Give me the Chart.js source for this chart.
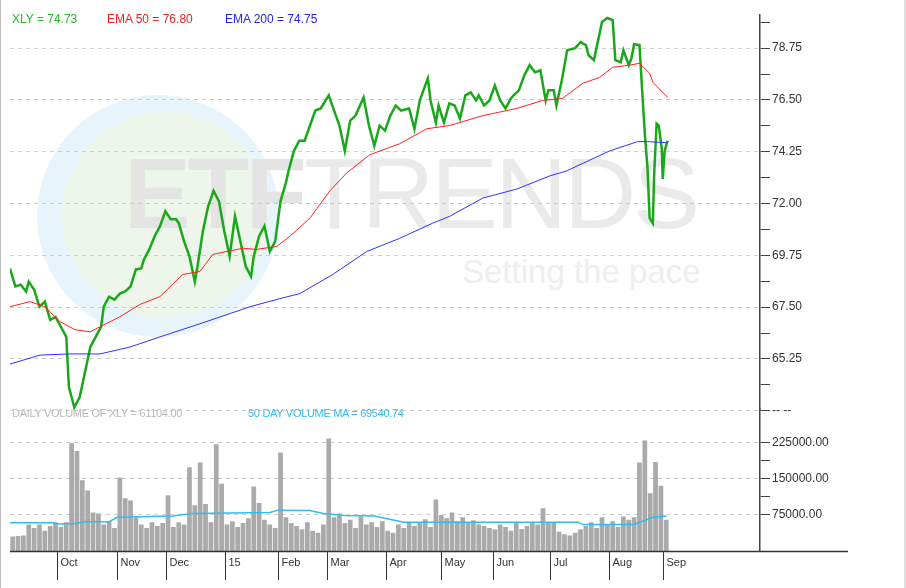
<!DOCTYPE html>
<html>
<head>
<meta charset="utf-8">
<script src="https://cdn.jsdelivr.net/npm/chart.js@4"></script>
<style>
  body { margin: 0; width: 906px; height: 588px; background: #fff; position: relative; overflow: hidden; font-family: "Liberation Sans", Arial, sans-serif; }
  .abs { position: absolute; white-space: nowrap; }
  #wm1 { left: 37px; top: 95px; width: 242px; height: 242px; border-radius: 50%; background: #e8f4fb; }
  #wm2 { left: 62px; top: 112px; width: 206px; height: 206px; border-radius: 50%; background: #eef6ec; }
  #wmText { left: 124px; top: 136px; font-size: 100px; color: #e4e4e4; letter-spacing: -3px; }
  #wmText b { font-weight: 900; }
  #wmText span { font-weight: 300; color: #eaeaea; }
  #wmSub { left: 462px; top: 253px; font-size: 33px; color: #eeeeee; }
  .leg { font-size: 12px; top: 12px; }
  .vleg { font-size: 11px; top: 407px; letter-spacing: -0.3px; }
  canvas { position: absolute; left: 0; }
  #frame { left: 0; top: 0; width: 1px; height: 588px; background: #bbb; }
  #frameR { left: 904px; top: 0; width: 2px; height: 588px; background: #ddd; }
</style>
</head>
<body>
<div class="abs" id="wm1"></div>
<div class="abs" id="wm2"></div>
<div class="abs" id="wmText"><b>ETF</b><span>TRENDS</span></div>
<div class="abs" id="wmSub">Setting the pace</div>
<div class="abs" id="frame"></div>
<div class="abs" id="frameR"></div>

<canvas id="chartPrice" width="906" height="420" style="top:0"></canvas>
<canvas id="chartVol" width="906" height="188" style="top:400px"></canvas>

<div class="abs leg" style="left:12px;color:#22bb22">XLY = 74.73</div>
<div class="abs leg" style="left:107px;color:#ee2222">EMA 50 = 76.80</div>
<div class="abs leg" style="left:225px;color:#2222ee">EMA 200 = 74.75</div>
<div class="abs vleg" style="left:12px;color:#bbbbbb">DAILY VOLUME OF XLY = 61104.00</div>
<div class="abs vleg" style="left:248px;color:#33bbee">50 DAY VOLUME MA = 69540.74</div>

<script>
// x unit = trading day since start of window (early Sep 2014)
const priceDays = [0, 2, 4, 6, 7, 9, 11, 13, 15, 17, 19, 21, 22, 24, 26, 28, 30, 32, 34, 35, 37, 39, 41, 43, 45, 47, 49, 50, 52, 54, 56, 58, 60, 62, 63, 65, 67, 69, 70, 72, 74, 76, 78, 80, 82, 84, 86, 88, 90, 91, 93, 95, 97, 99, 101, 103, 104, 106, 108, 110, 112, 114, 116, 119, 121, 123, 125, 127, 129, 132, 134, 136, 138, 140, 142, 144, 146, 149, 151, 153, 156, 157, 159, 160, 162, 164, 166, 168, 170, 172, 174, 175, 177, 179, 181, 183, 185, 187, 188, 190, 192, 194, 196, 198, 200, 201, 203, 204, 206, 208, 211, 213, 215, 216, 218, 220, 221, 223, 225, 226, 228, 229, 231, 232, 233, 235, 236, 237, 238, 238.8, 240, 240.5, 241.4, 242.2, 243.3, 243.7, 244.4, 245.5];
const priceValues = [69.18, 68.40, 68.48, 68.18, 68.61, 68.26, 67.52, 67.74, 66.95, 67.08, 66.65, 66.21, 64.03, 63.15, 63.59, 64.68, 65.77, 66.21, 66.65, 67.52, 67.96, 67.83, 68.09, 68.18, 68.40, 69.14, 69.18, 69.57, 70.01, 70.58, 71.02, 71.67, 71.32, 71.32, 71.15, 70.36, 69.71, 68.61, 69.27, 70.80, 71.89, 72.55, 72.11, 70.80, 69.71, 71.45, 70.36, 69.27, 68.83, 69.71, 70.58, 71.02, 69.92, 70.36, 72.11, 72.90, 73.42, 74.29, 74.73, 74.73, 75.39, 76.04, 76.13, 76.70, 76.04, 75.39, 74.29, 75.60, 75.82, 76.61, 75.39, 74.51, 75.39, 75.17, 75.82, 76.26, 76.04, 76.13, 75.25, 76.48, 77.44, 76.48, 75.52, 76.26, 75.52, 76.35, 76.26, 75.69, 76.70, 76.83, 76.48, 76.70, 76.26, 76.48, 77.13, 76.48, 76.13, 76.57, 76.70, 76.92, 77.57, 78.01, 77.70, 77.79, 76.48, 76.92, 76.92, 76.26, 77.35, 78.66, 78.75, 79.01, 78.88, 78.44, 78.23, 79.32, 79.89, 80.06, 79.97, 78.23, 78.14, 78.66, 78.01, 78.31, 78.92, 78.88, 76.92, 75.04, 73.55, 71.37, 71.15, 73.29, 75.47, 75.39, 74.42, 73.07, 74.29, 74.73];

const ema50Days = [0, 7.5, 13, 18.7, 24.3, 29.9, 33.6, 41, 48.5, 56, 64.5, 70.9, 75.7, 81, 87, 92, 99.6, 104.5, 112, 119.4, 125.7, 134.3, 145.5, 155.6, 164.2, 176.5, 189.2, 198.9, 206.3, 213.8, 220.1, 225, 231.3, 235, 238.8, 240, 245.5];
const ema50Values = [67.52, 67.74, 67.52, 66.87, 66.52, 66.43, 66.65, 67.08, 67.62, 67.96, 68.92, 69.05, 69.79, 69.92, 70.06, 70.01, 70.14, 70.58, 71.37, 72.55, 73.33, 74.12, 74.60, 75.25, 75.39, 75.82, 76.13, 76.48, 76.57, 77.22, 77.48, 77.92, 78.01, 78.09, 77.66, 77.27, 76.61];

const ema200Days = [0, 11.2, 22.4, 33.6, 44.8, 56, 70.9, 89.6, 100.7, 108.2, 120.5, 133.2, 145.5, 157.8, 164.2, 176.5, 189.2, 201.5, 207.8, 223.9, 234.3, 238, 245.5];
const ema200Values = [65.03, 65.42, 65.47, 65.47, 65.77, 66.21, 66.78, 67.52, 67.87, 68.09, 68.92, 69.92, 70.49, 71.15, 71.45, 72.24, 72.63, 73.20, 73.42, 74.29, 74.69, 74.69, 74.64];

// daily volume, one bar per two trading days
const volume = [30000, 31000, 32000, 55000, 48000, 55000, 42000, 52000, 60000, 50000, 60000, 224000, 208000, 147000, 126000, 80000, 78000, 55000, 62000, 48000, 153000, 110000, 105000, 70000, 55000, 48000, 60000, 52000, 58000, 116000, 50000, 60000, 55000, 174000, 95000, 184000, 98000, 60000, 222000, 140000, 55000, 62000, 50000, 58000, 68000, 134000, 100000, 65000, 55000, 48000, 205000, 70000, 58000, 52000, 45000, 60000, 42000, 38000, 55000, 234000, 70000, 78000, 58000, 65000, 48000, 72000, 55000, 60000, 50000, 62000, 42000, 38000, 55000, 48000, 60000, 52000, 58000, 66000, 50000, 107000, 75000, 68000, 80000, 62000, 70000, 58000, 64000, 55000, 52000, 48000, 45000, 55000, 50000, 42000, 58000, 46000, 52000, 60000, 55000, 89000, 60000, 58000, 40000, 35000, 32000, 38000, 45000, 52000, 60000, 48000, 70000, 55000, 62000, 50000, 72000, 65000, 70000, 184000, 230000, 120000, 185000, 136000, 65000];

const volMaDays = [0, 16, 18, 24, 28, 37, 40, 61, 65, 68, 97, 100, 112, 117, 125, 136, 147, 212, 214, 233, 240, 245];
const volMaValues = [59000, 59000, 56000, 57000, 61000, 61000, 70000, 73000, 76000, 78000, 80000, 85000, 84000, 78000, 74000, 73000, 60000, 60000, 55000, 55000, 70000, 73000];

const monthLabels = ['Oct', 'Nov', 'Dec', '15', 'Feb', 'Mar', 'Apr', 'May', 'Jun', 'Jul', 'Aug', 'Sep'];
const monthDays = [17.4, 40, 58.2, 80.2, 100, 118.5, 140.3, 160.8, 180.2, 201.5, 223.7, 243.7];

const priceMajor = [63, 65.25, 67.5, 69.75, 72, 74.25, 76.5, 78.75];
const priceTicks = [63, 64.125, 65.25, 66.375, 67.5, 68.625, 69.75, 70.875, 72, 73.125, 74.25, 75.375, 76.5, 77.625, 78.75, 79.875];
const volMajor = [75000, 150000, 225000];
const volTicks = [75000, 112500, 150000, 187500, 225000];

const pts = (xs, ys) => xs.map((x, i) => ({ x: x, y: ys[i] }));
const X_MAX = 280;
const AXIS_W = 146;
const font = { family: '"Liberation Sans", Arial, sans-serif', size: 12 };

const ctxPrice = document.getElementById('chartPrice').getContext('2d');
const chartPrice = new Chart(ctxPrice, {
    type: 'line',
    data: {
        datasets: [{
            data: pts(ema200Days, ema200Values),
            borderColor: '#3030ff',
            borderWidth: 1,
            pointRadius: 0
        },
        {
            data: pts(ema50Days, ema50Values),
            borderColor: '#ff2020',
            borderWidth: 1,
            pointRadius: 0
        },
        {
            data: pts(priceDays, priceValues),
            borderColor: '#19a819',
            borderWidth: 2.5,
            pointRadius: 0
        }]
    },
    options: {
        responsive: false,
        animation: false,
        layout: { padding: { left: 10, top: 15, bottom: 0 } },
        plugins: { legend: { display: false }, tooltip: { enabled: false } },
        scales: {
            x: { type: 'linear', min: 0, max: X_MAX, display: false },
            y: {
                position: 'right',
                min: 63,
                max: 80.19,
                afterBuildTicks: s => { s.ticks = priceTicks.map(v => ({ value: v })); },
                afterFit: s => { s.width = AXIS_W; },
                border: { color: '#444', width: 1.5, dash: [4, 4] },
                grid: {
                    color: c => priceMajor.includes(c.tick.value) ? '#cccccc' : 'transparent',
                    tickColor: '#444',
                    tickLength: 10,
                    tickBorderDash: []
                },
                ticks: {
                    color: '#333',
                    font: font,
                    padding: 2,
                    callback: v => v === 63 ? '-- --' : (priceMajor.includes(v) ? v.toFixed(2) : '')
                }
            }
        }
    }
});

const monthAxis = {
    id: 'monthAxis',
    afterDraw(chart) {
        const c = chart.ctx;
        const xs = chart.scales.x;
        const bottom = chart.chartArea.bottom;
        c.save();
        c.strokeStyle = '#333';
        c.lineWidth = 1.5;
        c.beginPath();
        c.moveTo(xs.getPixelForValue(0), bottom + 0.5);
        c.lineTo(848, bottom + 0.5);
        c.stroke();
        c.lineWidth = 1;
        c.fillStyle = '#333';
        c.font = '11px "Liberation Sans", Arial, sans-serif';
        c.textBaseline = 'middle';
        monthDays.forEach((d, i) => {
            const px = Math.round(xs.getPixelForValue(d)) + 0.5;
            c.beginPath();
            c.moveTo(px, bottom);
            c.lineTo(px, bottom + 29);
            c.stroke();
            c.fillText(monthLabels[i], px + 3, bottom + 12);
        });
        c.restore();
    }
};

const ctxVol = document.getElementById('chartVol').getContext('2d');
const chartVol = new Chart(ctxVol, {
    data: {
        datasets: [{
            type: 'line',
            data: pts(volMaDays, volMaValues),
            borderColor: '#33bbf0',
            borderWidth: 1.5,
            pointRadius: 0
        },
        {
            type: 'bar',
            data: volume.map((v, i) => ({ x: i * 2 + 1, y: v })),
            backgroundColor: '#aaaaaa',
            barPercentage: 0.88,
            categoryPercentage: 1
        }]
    },
    options: {
        responsive: false,
        animation: false,
        layout: { padding: { left: 10, top: 8, bottom: 37 } },
        plugins: { legend: { display: false }, tooltip: { enabled: false } },
        scales: {
            x: { type: 'linear', min: 0, max: X_MAX, display: false, offset: false },
            y: {
                position: 'right',
                min: 0,
                max: 295000,
                afterBuildTicks: s => { s.ticks = volTicks.map(v => ({ value: v })); },
                afterFit: s => { s.width = AXIS_W; },
                border: { color: '#444', width: 1.5, dash: [4, 4] },
                grid: {
                    color: c => volMajor.includes(c.tick.value) ? '#cccccc' : 'transparent',
                    tickColor: '#444',
                    tickLength: 10,
                    tickBorderDash: []
                },
                ticks: {
                    color: '#333',
                    font: font,
                    padding: 2,
                    callback: v => volMajor.includes(v) ? v.toFixed(2) : ''
                }
            }
        }
    },
    plugins: [monthAxis]
});
</script>
</body>
</html>
